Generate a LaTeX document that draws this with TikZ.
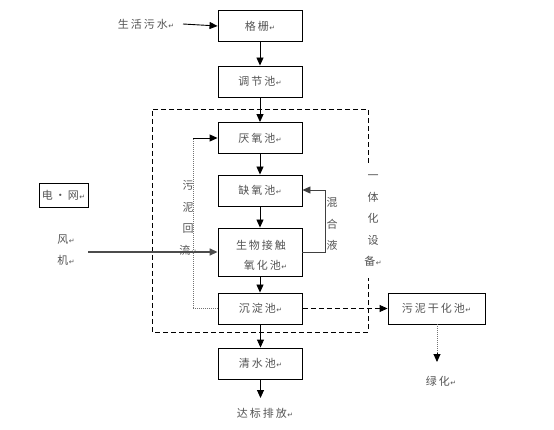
\documentclass[tikz,border=0pt]{standalone}
\usepackage{fontspec}
\setmainfont{Noto Sans CJK SC}
\newfontfamily\dvfont{DejaVu Sans}
\usetikzlibrary{arrows.meta}
\definecolor{txt}{rgb}{0.33,0.33,0.33}
\newcommand\parmk{{\dvfont\fontsize{7}{7}\selectfont\kern0.5pt ↵}}
\newcommand\gp{\kern2pt}
\tikzset{
  box/.style={draw=black, line width=0.9pt, minimum width=84pt, minimum height=31pt, inner sep=0pt, font=\fontsize{11}{11}\selectfont, text=txt},
  lbl/.style={font=\fontsize{11}{11}\selectfont, text=txt, inner sep=0pt},
  vlbl/.style={font=\fontsize{11}{21.5}\selectfont, text=txt, inner sep=0pt, align=center},
  arr/.style={-{Triangle[length=8pt,width=7pt]}, line width=0.9pt, black},
  dsh/.style={dash pattern=on 5pt off 3pt, line width=0.9pt, black},
  dot/.style={dash pattern=on 1pt off 1pt, line width=1pt, black!55},
}
\begin{document}
\begin{tikzpicture}[x=1pt,y=-1pt]
\useasboundingbox (0,0) rectangle (554,430);
% boxes
\node[box] (gs) at (260,26) {格\gp 栅\parmk};
\node[box] (tj) at (260,81.5) {调\gp 节\gp 池\parmk};
\node[box] (yy) at (260,138) {厌\gp 氧\gp 池\parmk};
\node[box] (qy) at (260,190.5) {缺\gp 氧\gp 池\parmk};
\node[box, minimum height=48pt] (sw) at (260,252) {};
\node[lbl, align=center, font=\fontsize{11}{20}\selectfont] (swt) at (261,255) {生\gp 物\gp 接\gp 触\\\kern9pt氧\gp 化\gp 池\parmk};
\node[box] (cd) at (260.5,308.5) {沉\gp 淀\gp 池\parmk};
\node[box, minimum width=97pt] (wn) at (436.5,308.5) {污\gp 泥\gp 干\gp 化\gp 池\parmk};
\node[box] (qs) at (260.5,363.5) {清\gp 水\gp 池\parmk};
\node[box, minimum width=49pt, minimum height=24pt] (dw) at (63.5,195) {电\gp ·\gp 网\parmk};
% free texts
\node[lbl] (sh) at (146,24) {生\gp 活\gp 污\gp 水\parmk};
\node[lbl] (db) at (265,413) {达\gp 标\gp 排\gp 放\parmk};
\node[lbl] (lh) at (441,381) {绿\gp 化\parmk};
\node[vlbl] (fj) at (66,250) {风\parmk\\机\parmk};
\node[vlbl] (wnhl) at (188,218) {污\\泥\\回\\流\parmk};
\node[vlbl] (hhy) at (332,224) {混\\合\\液};
\node[vlbl] (yth) at (373,221) {一\\体\\化\\设\\备\parmk};
% coordinates
\coordinate (shE) at (183,24);
\coordinate (fjE) at (88,252);
\coordinate (dbN) at (260.5,398);
\coordinate (lhN) at (437,362);
% dashed enclosure
\draw[dsh] (368,163) -- (368,109) -- (152,109) -- (152,332) -- (368,332) -- (368,278);
% main flow
\draw[arr] (shE) -- (gs.west);
\draw[arr] (gs) -- (tj);
\draw[arr] (tj) -- (yy);
\draw[arr] (yy) -- (qy);
\draw[arr] (qy) -- (sw);
\draw[arr] (sw.south) -- (sw.south |- cd.north);
\draw[arr] (cd.south) -- (cd.south |- qs.north);
\draw[arr] (qs.south) -- (dbN);
% air
\draw[-{Triangle[length=8pt,width=7pt]}, line width=1.6pt, black!70] (fjE) -- (sw.west |- fjE);
% mixed liquor return
\draw[-{Triangle[length=8pt,width=7pt]}, line width=0.9pt, black!75] (sw.east |- fjE) -- (325,252) -- (325,190) -- (qy.east |- 0,190);
% sludge return
\draw[dot] (cd.west) -- (193,308.5) -- (193,138);
\draw[arr] (193,138) -- (yy.west);
% sludge to drying
\draw[dsh] (cd.east) -- (380,308.5);
\draw[arr] (379,308.5) -- (wn.west);
% drying to greening
\draw[dot] (wn.south -| lhN) -- (437,354);
\draw[arr] (437,353) -- (lhN);
\end{tikzpicture}
\end{document}
